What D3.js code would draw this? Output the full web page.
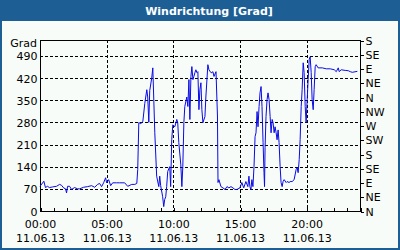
<!DOCTYPE html>
<html><head><meta charset="utf-8">
<script src="https://cdn.jsdelivr.net/npm/d3@7/dist/d3.min.js"></script>
<style>
html,body{margin:0;padding:0;background:#fff;}
svg{display:block;}
text{font-family:"DejaVu Sans",Verdana,sans-serif;}
</style></head>
<body><svg id="c" width="400" height="250"></svg>
<script>
const title = "Windrichtung [Grad]";
const unitLabel = "Grad";
const dateLabel = "11.06.13";
const hours = [0.0,0.29,0.41,0.56,0.71,0.94,1.24,1.47,1.62,1.77,1.92,1.99,2.07,2.22,2.37,2.59,2.82,2.97,3.27,3.57,3.87,4.10,4.32,4.47,4.62,4.77,4.92,5.0,5.15,5.30,5.45,5.75,5.98,6.35,6.58,6.88,7.11,7.26,7.33,7.41,7.56,7.71,7.86,8.01,8.08,8.16,8.23,8.38,8.46,8.61,8.75,8.91,8.98,9.05,9.20,9.28,9.35,9.43,9.50,9.58,9.73,9.80,9.88,9.96,10.11,10.26,10.33,10.41,10.56,10.64,10.71,10.79,10.86,11.01,11.09,11.17,11.24,11.32,11.39,11.47,11.54,11.62,11.69,11.77,11.84,11.92,11.99,12.07,12.14,12.22,12.37,12.44,12.59,12.67,12.82,12.89,12.97,13.05,13.20,13.31,13.35,13.42,13.57,13.72,13.88,14.02,14.17,14.32,14.47,14.62,14.77,14.99,15.14,15.28,15.44,15.59,15.67,15.74,15.82,15.89,15.97,16.05,16.13,16.20,16.28,16.35,16.43,16.50,16.58,16.65,16.73,16.80,16.84,16.88,16.95,17.03,17.10,17.18,17.26,17.33,17.41,17.48,17.56,17.63,17.71,17.78,17.86,17.93,18.01,18.08,18.16,18.23,18.31,18.46,18.53,18.68,18.76,18.91,19.06,19.21,19.29,19.36,19.44,19.51,19.59,19.66,19.74,19.81,19.89,19.96,20.04,20.11,20.19,20.26,20.34,20.41,20.49,20.56,20.64,20.71,20.86,21.17,21.47,21.77,22.07,22.22,22.37,22.44,22.59,22.89,23.12,23.27,23.42,23.80];
const values = [78,94,74,78,74,76,78,84,81,73,70,57,78,78,68,74,70,70,75,77,80,75,84,87,77,89,105,89,99,80,89,89,89,89,78,84,84,87,131,279,276,282,340,383,360,280,380,420,452,247,110,77,110,80,45,14,36,45,77,125,140,77,225,272,266,289,279,216,146,77,140,279,330,360,330,415,289,425,456,415,425,437,446,437,440,320,383,405,320,279,298,360,462,446,437,437,440,425,440,300,90,99,77,73,68,77,73,77,73,68,68,73,90,73,93,77,110,77,68,99,77,140,235,247,314,266,330,373,393,330,216,121,77,200,298,352,373,352,298,247,289,279,247,266,247,225,256,216,140,90,77,93,99,90,93,90,93,93,99,131,137,121,162,225,330,383,468,437,330,279,352,415,478,487,437,352,320,383,456,462,452,452,449,449,446,440,452,440,446,444,443,440,438,441];
const leftTicks = [0,70,140,210,280,350,420,490];
const rightTicks = [0,45,90,135,180,225,270,315,360,405,450,495,540];
const rightLabels = ["N","NE","E","SE","S","SW","W","NW","N","NE","E","SE","S"];
const majorHours = [0,5,10,15,20];
const timeLabels = ["00:00","05:00","10:00","15:00","20:00"];

const W=400,H=250, L=40, R=360, T=40, B=211;
const blue="#1d5f95";
const svg=d3.select("#c");
svg.append("rect").attr("x",0).attr("y",0).attr("width",W).attr("height",H).attr("fill",blue);
svg.append("rect").attr("x",2).attr("y",21).attr("width",W-4).attr("height",H-23).attr("fill","#f8fcf8");
svg.append("text").attr("x",209).attr("y",15).attr("text-anchor","middle")
  .attr("fill","#fff").attr("font-weight","bold").attr("font-size","11px").text(title);

const x=d3.scaleLinear().domain([0,24]).range([L,R]);
const y=d3.scaleLinear().domain([0,540]).range([B,T]);

const g=svg.append("g").attr("shape-rendering","crispEdges");
// grid
g.selectAll(".hg").data(leftTicks.filter(d=>d>0)).enter().append("line")
 .attr("x1",L).attr("x2",R).attr("y1",d=>Math.round(y(d))+0.5).attr("y2",d=>Math.round(y(d))+0.5)
 .attr("stroke","#000").attr("stroke-dasharray","3,2");
g.selectAll(".vg").data(majorHours.filter(d=>d>0)).enter().append("line")
 .attr("y1",T).attr("y2",B).attr("x1",d=>Math.round(x(d))+0.5).attr("x2",d=>Math.round(x(d))+0.5)
 .attr("stroke","#000").attr("stroke-dasharray","3,2");

// left axis
const la=d3.axisLeft(y).tickValues(leftTicks).tickSize(0).tickPadding(3);
const lg=svg.append("g").attr("transform",`translate(${L+0.5},0.5)`).call(la);
lg.select(".domain").remove();
lg.selectAll("text").attr("font-size","11px").attr("fill","#000").attr("font-family","DejaVu Sans");
svg.append("text").attr("x",37).attr("y",47).attr("text-anchor","end").attr("font-size","11px").text(unitLabel);

// right axis
const ra=d3.axisRight(y).tickValues(rightTicks).tickSize(3).tickPadding(2).tickFormat((d,i)=>rightLabels[i]);
const rg=svg.append("g").attr("transform",`translate(${R+0.5},0.5)`).attr("shape-rendering","crispEdges").call(ra);
rg.select(".domain").remove();
rg.selectAll("text").attr("font-size","11px").attr("fill","#000").attr("font-family","DejaVu Sans");

// bottom minor ticks (inward)
const ba=d3.axisBottom(x).tickValues(d3.range(0,25)).tickSizeInner(-4).tickSizeOuter(0).tickFormat("");
const bg=svg.append("g").attr("transform",`translate(0.5,${B+0.5})`).attr("shape-rendering","crispEdges").call(ba);
bg.select(".domain").remove();
// bottom labels
const bl=d3.axisBottom(x).tickValues(majorHours).tickSize(0).tickPadding(9).tickFormat((d,i)=>timeLabels[i]);
const blg=svg.append("g").attr("transform",`translate(0,${B})`).call(bl);
blg.select(".domain").remove();
blg.selectAll("text").attr("font-size","11px").attr("fill","#000").attr("font-family","DejaVu Sans");
blg.selectAll(".tick").append("text").attr("y",31).attr("fill","#000").attr("font-size","11px")
  .attr("font-family","DejaVu Sans").attr("text-anchor","middle").text(dateLabel);

// frame
g.append("rect").attr("x",L+0.5).attr("y",T+0.5).attr("width",R-L).attr("height",B-T)
 .attr("fill","none").attr("stroke","#000");

// line
const pts=hours.map((h,i)=>[h,values[i]]);
svg.append("path").datum(pts).attr("fill","none").attr("stroke","#0a0ae6").attr("stroke-width",1)
 .attr("d",d3.line().x(d=>x(d[0])).y(d=>y(d[1])));
</script></body></html>
